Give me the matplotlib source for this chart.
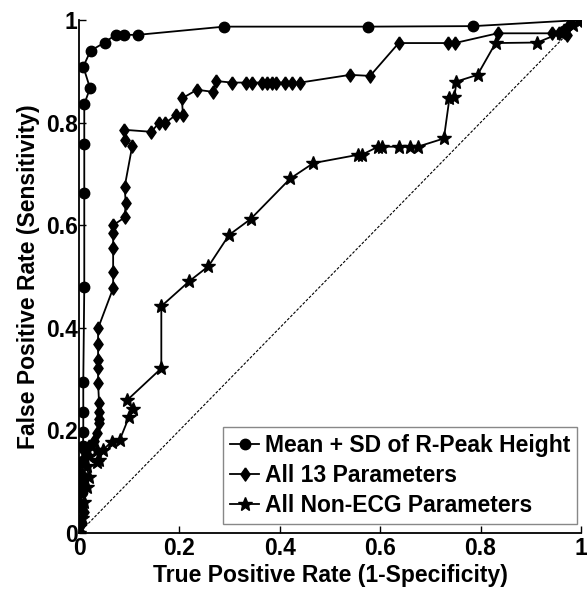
import matplotlib.pyplot as plt

plt.rcParams['font.family'] = ['Liberation Sans', 'DejaVu Sans']
plt.rcParams['font.weight'] = 'bold'

# Mean + SD of R-Peak Height (circles)
x_peak = [0.0, 0.0, 0.004, 0.006, 0.008, 0.008, 0.008, 0.0085, 0.0085, 0.0085,
          0.0105, 0.0105, 0.0105, 0.0105, 0.022, 0.0085, 0.023, 0.051, 0.073,
          0.089, 0.117, 0.289, 0.576, 0.786, 1.0]
y_peak = [0.0, 0.02, 0.05, 0.08, 0.11, 0.14, 0.17, 0.197, 0.236, 0.295,
          0.479, 0.663, 0.758, 0.836, 0.867, 0.909, 0.940, 0.956, 0.971,
          0.971, 0.971, 0.987, 0.987, 0.988, 1.0]

# All 13 Parameters (diamonds)
x_all = [0.0, 0.005, 0.01, 0.0, 0.0, 0.005, 0.0, 0.005, 0.01, 0.02, 0.03,
         0.035, 0.04, 0.04, 0.04, 0.04, 0.038, 0.038, 0.038, 0.038, 0.038,
         0.068, 0.068, 0.068, 0.068, 0.068, 0.091, 0.093, 0.091, 0.106, 0.091,
         0.089, 0.144, 0.159, 0.172, 0.193, 0.207, 0.205, 0.235, 0.266, 0.273,
         0.304, 0.332, 0.345, 0.364, 0.375, 0.385, 0.392, 0.411, 0.424, 0.441,
         0.540, 0.580, 0.637, 0.735, 0.749, 0.834, 0.943, 0.956, 0.966, 0.972,
         0.976, 1.0]
y_all = [0.0, 0.02, 0.04, 0.06, 0.08, 0.10, 0.12, 0.14, 0.16, 0.17, 0.18,
         0.194, 0.215, 0.223, 0.236, 0.253, 0.292, 0.321, 0.337, 0.368, 0.399,
         0.477, 0.509, 0.555, 0.584, 0.600, 0.615, 0.643, 0.675, 0.754, 0.767,
         0.786, 0.782, 0.799, 0.799, 0.815, 0.815, 0.847, 0.864, 0.860, 0.881,
         0.878, 0.878, 0.878, 0.878, 0.878, 0.878, 0.878, 0.878, 0.878, 0.878,
         0.893, 0.891, 0.955, 0.955, 0.955, 0.974, 0.974, 0.974, 0.98, 0.97,
         0.99, 1.0]

# All Non-ECG Parameters (stars)
x_non = [0.0, 0.005, 0.01, 0.015, 0.02, 0.015, 0.02, 0.035, 0.039, 0.035,
         0.048, 0.065, 0.081, 0.10, 0.108, 0.096, 0.164, 0.164, 0.220, 0.258,
         0.299, 0.342, 0.421, 0.467, 0.555, 0.563, 0.596, 0.603, 0.637, 0.659,
         0.675, 0.727, 0.738, 0.748, 0.752, 0.794, 0.830, 0.913, 0.96, 0.985,
         1.0]
y_non = [0.0, 0.03, 0.06, 0.09, 0.11, 0.13, 0.15, 0.139, 0.142, 0.162,
         0.162, 0.178, 0.181, 0.227, 0.241, 0.259, 0.321, 0.442, 0.491, 0.520,
         0.581, 0.612, 0.691, 0.721, 0.737, 0.737, 0.753, 0.753, 0.753, 0.753,
         0.753, 0.769, 0.847, 0.850, 0.880, 0.893, 0.955, 0.956, 0.975, 0.99,
         1.0]

labels = ['Mean + SD of R-Peak Height', 'All 13 Parameters', 'All Non-ECG Parameters']
ticks = [0, 0.2, 0.4, 0.6, 0.8, 1]
tick_labels = ['0', '0.2', '0.4', '0.6', '0.8', '1']

diamond = [(0, 1), (0.7, 0), (0, -1), (-0.7, 0), (0, 1)]

fig = plt.figure(figsize=(5.87, 5.89), dpi=100)
ax = fig.add_axes([0.1346, 0.0951, 0.855, 0.871])

ax.plot([0, 1], [0, 1], color='k', linestyle=(0, (2.5, 1.5)), linewidth=0.8)
ax.plot(x_peak, y_peak, 'k-', marker='o', markersize=7.5, linewidth=1.3, label=labels[0])
ax.plot(x_all, y_all, 'k-', marker=diamond, markersize=9.5, linewidth=1.3, label=labels[1])
ax.plot(x_non, y_non, 'k-', marker='*', markersize=10, linewidth=1.3, label=labels[2])

ax.set_xlim(0, 1)
ax.set_ylim(0, 1)
ax.set_xticks(ticks)
ax.set_xticklabels(tick_labels)
ax.set_yticks(ticks)
ax.set_yticklabels(tick_labels)
ax.tick_params(direction='in', length=5, width=1, labelsize=16.5)
ax.tick_params(axis='x', pad=3)
ax.tick_params(axis='y', pad=1)

ax.spines['top'].set_visible(False)
ax.spines['right'].set_visible(False)
ax.spines['left'].set_linewidth(1.3)
ax.spines['bottom'].set_linewidth(1.3)

ax.set_xlabel('True Positive Rate (1-Specificity)', fontsize=16.5, fontweight='bold', labelpad=3)
ax.set_ylabel('False Positive Rate (Sensitivity)', fontsize=16.5, fontweight='bold', labelpad=4)

leg = ax.legend(loc='lower right', bbox_to_anchor=(0.993, 0.018), fontsize=16.5,
                handlelength=1.3, handletextpad=0.25, labelspacing=0.3,
                borderpad=0.3, borderaxespad=0, fancybox=False, framealpha=1)
leg.get_frame().set_edgecolor('#888888')
leg.get_frame().set_linewidth(1.0)

plt.savefig('out.png', dpi=100)
